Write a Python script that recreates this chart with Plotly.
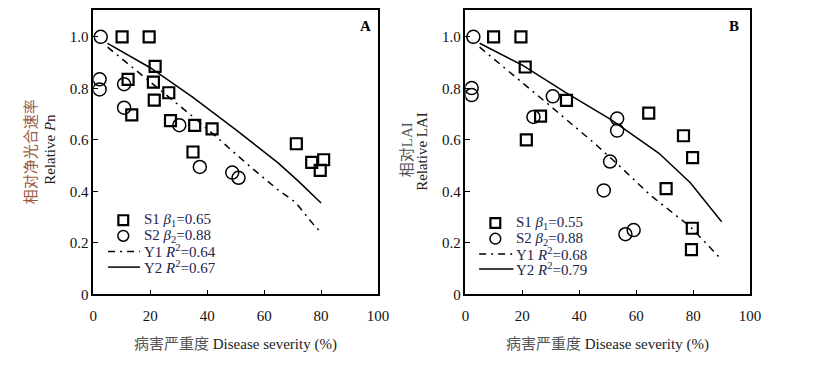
import plotly.graph_objects as go

# ---------------- data ----------------
A_S1_x = [10.1, 19.6, 21.7, 12.2, 21.1, 26.5, 21.4, 13.5, 27.1, 35.6, 41.7, 35.0, 71.3, 76.7, 80.9, 79.7]
A_S1_y = [1.0, 1.0, 0.885, 0.835, 0.824, 0.783, 0.754, 0.697, 0.675, 0.656, 0.643, 0.553, 0.585, 0.513, 0.523, 0.482]
A_S2_x = [2.6, 2.2, 2.2, 10.8, 10.8, 30.2, 37.4, 48.8, 51.0]
A_S2_y = [1.0, 0.835, 0.796, 0.816, 0.725, 0.657, 0.495, 0.473, 0.453]
A_Y1_x = [5, 18, 35, 43, 55, 65, 71, 77, 80]
A_Y1_y = [0.96, 0.843, 0.69, 0.614, 0.497, 0.405, 0.358, 0.276, 0.24]
A_Y2_x = [5, 20, 35, 50, 65, 72, 80]
A_Y2_y = [0.975, 0.88, 0.765, 0.64, 0.51, 0.44, 0.355]

B_S1_x = [9.9, 19.5, 21.0, 35.5, 26.4, 21.4, 64.4, 76.6, 79.8, 70.5, 79.7, 79.4]
B_S1_y = [1.0, 1.0, 0.883, 0.753, 0.692, 0.600, 0.704, 0.616, 0.531, 0.411, 0.257, 0.174]
B_S2_x = [2.8, 2.2, 2.2, 30.7, 23.9, 53.3, 53.3, 50.8, 48.6, 56.2, 59.1]
B_S2_y = [1.0, 0.801, 0.774, 0.769, 0.689, 0.683, 0.636, 0.516, 0.404, 0.234, 0.250]
B_Y1_x = [5, 17, 30, 45, 55, 65, 79, 90]
B_Y1_y = [0.96, 0.851, 0.73, 0.59, 0.49, 0.385, 0.263, 0.135]
B_Y2_x = [5, 20, 35, 51, 68, 79, 90]
B_Y2_y = [0.975, 0.89, 0.785, 0.68, 0.548, 0.434, 0.282]

x_ticks = [0, 20, 40, 60, 80, 100]
y_ticks = [0, 0.2, 0.4, 0.6, 0.8, 1.0]
y_tick_labels = ["0", "0.2", "0.4", "0.6", "0.8", "1.0"]

legend_A = ["S1 <i>β</i><sub>1</sub>=0.65", "S2 <i>β</i><sub>2</sub>=0.88",
            "Y1 <i>R</i><sup>2</sup>=0.64", "Y2 <i>R</i><sup>2</sup>=0.67"]
legend_B = ["S1 <i>β</i><sub>1</sub>=0.55", "S2 <i>β</i><sub>2</sub>=0.88",
            "Y1 <i>R</i><sup>2</sup>=0.68", "Y2 <i>R</i><sup>2</sup>=0.79"]

# ---------------- layout helpers ----------------
W, H = 820, 370
FONT = "Liberation Serif, Times New Roman, Noto Sans CJK SC, serif"
LEG_COLOR = "#23234f"
DASHDOT = "7px,5px,2px,5px"


def X(px):
    return px / W


def Y(py):
    return 1 - py / H


fig = go.Figure()

panels = [
    dict(xa="x", ya="y", S1=(A_S1_x, A_S1_y), S2=(A_S2_x, A_S2_y),
         Y1=(A_Y1_x, A_Y1_y), Y2=(A_Y2_x, A_Y2_y)),
    dict(xa="x2", ya="y2", S1=(B_S1_x, B_S1_y), S2=(B_S2_x, B_S2_y),
         Y1=(B_Y1_x, B_Y1_y), Y2=(B_Y2_x, B_Y2_y)),
]

for p in panels:
    fig.add_trace(go.Scatter(x=p["Y1"][0], y=p["Y1"][1], mode="lines", xaxis=p["xa"], yaxis=p["ya"],
                             line=dict(color="black", width=1.5, dash=DASHDOT), showlegend=False))
    fig.add_trace(go.Scatter(x=p["Y2"][0], y=p["Y2"][1], mode="lines", xaxis=p["xa"], yaxis=p["ya"],
                             line=dict(color="black", width=1.5), showlegend=False))
    fig.add_trace(go.Scatter(x=p["S1"][0], y=p["S1"][1], mode="markers", xaxis=p["xa"], yaxis=p["ya"],
                             marker=dict(symbol="square-open", size=11, color="black",
                                         line=dict(width=2.2, color="black")), showlegend=False))
    fig.add_trace(go.Scatter(x=p["S2"][0], y=p["S2"][1], mode="markers", xaxis=p["xa"], yaxis=p["ya"],
                             marker=dict(symbol="circle-open", size=13, color="black",
                                         line=dict(width=1.5, color="black")), showlegend=False))

axis_common = dict(showline=True, linecolor="black", linewidth=1.5, mirror=True,
                   showgrid=False, zeroline=False, ticks="inside", ticklen=5, tickwidth=1.2,
                   tickcolor="black", tickfont=dict(family=FONT, size=15, color="#111"))

top, bottom = 10, 301
fig.update_layout(
    width=W, height=H, margin=dict(l=0, r=0, t=0, b=0),
    paper_bgcolor="white", plot_bgcolor="white", showlegend=False,
    xaxis=dict(domain=[X(91), X(381)], range=[0, 100], tickvals=x_ticks, anchor="y",
               ticklabelstandoff=7, **axis_common),
    yaxis=dict(domain=[Y(bottom), Y(top)], range=[0, 1.105], tickvals=y_ticks, ticktext=y_tick_labels,
               anchor="x", **axis_common),
    xaxis2=dict(domain=[X(470), X(760)], range=[0, 100], tickvals=x_ticks, anchor="y2",
                ticklabelstandoff=7, **axis_common),
    yaxis2=dict(domain=[Y(bottom), Y(top)], range=[0, 1.105], tickvals=y_ticks, ticktext=y_tick_labels,
                anchor="x2", **axis_common),
)

ann = []
shapes = []


def label(px, py, text, size=15, color="#222", angle=0, xanchor="center"):
    ann.append(dict(x=X(px), y=Y(py), xref="paper", yref="paper", text=text, showarrow=False,
                    xanchor=xanchor, yanchor="middle", textangle=angle,
                    font=dict(family=FONT, size=size, color=color)))


# panel letters
label(368, 27, "<b>A</b>", color="black")
label(744, 27, "<b>B</b>", color="black")

# x titles
xt = "<span style='color:#555'>病害严重度</span> Disease severity (%)"
label(236, 352, xt)
label(615, 352, xt)

# y titles
label(27, 155, "相对净光合速率", color="#9a5b3f", angle=-90)
label(47, 153, "Relative <i>P</i>n", angle=-90)
label(410, 153, "相对LAI", color="#555", angle=-90)
label(425, 155, "Relative LAI", angle=-90)

# legends (manual)
legs = [
    dict(labels=legend_A, mx=121.5, tx=141, lx0=106, lx1=138.5, rows=[225, 241, 257, 273]),
    dict(labels=legend_B, mx=500.5, tx=520, lx0=484, lx1=519, rows=[228, 244, 259.5, 275]),
]
for L in legs:
    r = L["rows"]
    s = 5
    shapes.append(dict(type="rect", xref="paper", yref="paper", x0=X(L["mx"] - s), x1=X(L["mx"] + s),
                       y0=Y(r[0] + s), y1=Y(r[0] - s), line=dict(color="black", width=2.2)))
    c = 5.5
    shapes.append(dict(type="circle", xref="paper", yref="paper", x0=X(L["mx"] - c), x1=X(L["mx"] + c),
                       y0=Y(r[1] + c), y1=Y(r[1] - c), line=dict(color="black", width=1.5)))
    shapes.append(dict(type="line", xref="paper", yref="paper", x0=X(L["lx0"]), x1=X(L["lx1"]),
                       y0=Y(r[2]), y1=Y(r[2]), line=dict(color="black", width=1.5, dash=DASHDOT)))
    shapes.append(dict(type="line", xref="paper", yref="paper", x0=X(L["lx0"]), x1=X(L["lx1"]),
                       y0=Y(r[3]), y1=Y(r[3]), line=dict(color="black", width=1.5)))
    for i, t in enumerate(L["labels"]):
        label(L["tx"], r[i], t, color=LEG_COLOR, xanchor="left")

fig.update_layout(annotations=ann, shapes=shapes)
fig.write_html("out.html", config={"displayModeBar": False},
               post_script="document.body.style.margin='0';document.body.style.overflow='hidden';")
